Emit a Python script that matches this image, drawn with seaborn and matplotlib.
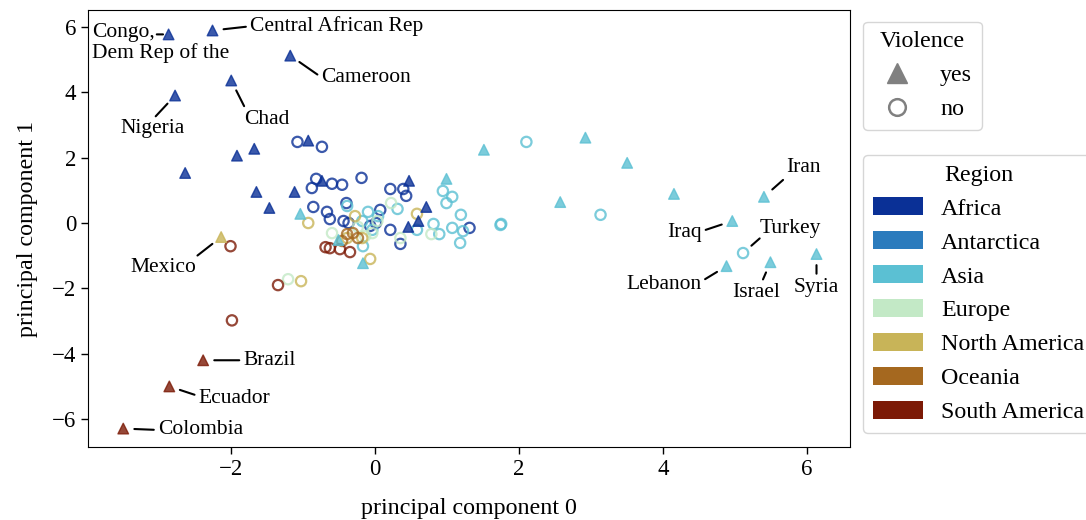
import matplotlib

matplotlib.use("Agg")
import matplotlib.pyplot as plt
import pandas as pd
import seaborn as sns
from matplotlib.lines import Line2D
from matplotlib.patches import Patch

# --- data (principal components) ------------------------------------------
REGIONS = ["Africa", "Antarctica", "Asia", "Europe", "North America", "Oceania", "South America"]
REGION_COLORS = ["#0a3096", "#2b7bbd", "#5bc0d3", "#c3e9c6", "#c8b458", "#a5681f", "#7c1a06"]

# (pc0, pc1, label)
africa_yes = [
    (-2.87, 5.77, "Congo,\nDem Rep of the"), (-2.26, 5.89, "Central African Rep"),
    (-1.18, 5.12, "Cameroon"), (-2.00, 4.36, "Chad"), (-2.78, 3.90, "Nigeria"),
    (-0.93, 2.52, ""), (-1.92, 2.06, ""), (-1.68, 2.27, ""), (-2.64, 1.53, ""),
    (-1.65, 0.95, ""), (-1.47, 0.46, ""), (-1.12, 0.95, ""), (-0.74, 1.29, ""),
    (0.47, 1.29, ""), (0.71, 0.49, ""), (0.60, 0.06, ""), (0.46, -0.12, ""),
]
africa_no = [
    (-1.08, 2.48), (-0.74, 2.33), (-0.82, 1.35), (-0.88, 1.07), (-0.60, 1.20),
    (-0.46, 1.17), (-0.19, 1.38), (-0.86, 0.49), (-0.67, 0.34), (-0.63, 0.12),
    (-0.44, 0.06), (-0.37, 0.00), (-0.40, 0.61), (0.07, 0.40), (0.21, 1.04),
    (0.39, 1.04), (0.43, 0.83), (0.21, -0.21), (0.35, -0.64), (1.31, -0.15),
    (-0.07, -0.09), (0.01, 0.00),
]
asia_yes = [
    (2.92, 2.61, ""), (3.50, 1.84, ""), (4.15, 0.89, ""), (5.40, 0.80, "Iran"),
    (4.96, 0.06, "Iraq"), (4.88, -1.32, "Lebanon"), (5.49, -1.20, "Israel"),
    (6.13, -0.95, "Syria"), (1.51, 2.24, ""), (0.99, 1.35, ""), (2.57, 0.64, ""),
    (-1.04, 0.28, ""), (-0.51, -0.52, ""), (-0.17, -1.23, ""),
]
asia_no = [
    (2.10, 2.48, ""), (3.13, 0.25, ""), (5.11, -0.92, "Turkey"), (1.75, -0.03, ""),
    (1.74, -0.06, ""), (0.94, 0.98, ""), (1.07, 0.80, ""), (0.99, 0.61, ""),
    (1.19, 0.25, ""), (1.07, -0.15, ""), (1.22, -0.25, ""), (1.18, -0.61, ""),
    (0.89, -0.34, ""), (0.81, -0.03, ""), (0.58, -0.21, ""), (-0.10, 0.34, ""),
    (0.31, 0.43, ""), (-0.39, 0.52, ""), (-0.17, -0.71, ""), (-0.18, 0.06, ""),
    (0.04, 0.21, ""), (-0.04, -0.21, ""),
]
europe_no = [
    (0.22, 0.61), (-0.60, -0.31), (0.35, -0.46), (0.78, -0.34), (-1.21, -1.72),
    (-0.14, -0.40), (-0.04, -0.31), (-0.24, -0.12), (0.03, 0.06),
]
north_america_yes = [(-2.14, -0.43, "Mexico")]
north_america_no = [
    (-0.93, 0.00), (-0.28, 0.21), (-0.07, -1.10), (-1.03, -1.78), (0.58, 0.28),
    (-0.39, -0.46), (-0.18, -0.46),
]
oceania_no = [(-0.39, -0.34), (-0.31, -0.31), (-0.24, -0.46), (-0.46, -0.55)]
south_america_yes = [(-2.39, -4.20, "Brazil"), (-2.86, -5.00, "Ecuador"), (-3.50, -6.29, "Colombia")]
south_america_no = [
    (-2.01, -0.71), (-1.99, -2.98), (-1.35, -1.90), (-0.69, -0.74), (-0.63, -0.77),
    (-0.49, -0.80), (-0.35, -0.89),
]

# label placement: offset of text anchor (points), ha, va, relpos of leader start, shrink at point
LABEL_POS = {
    "Congo,\nDem Rep of the": ((-55, 8), "left", "top", (0.44, 0.72), 4),
    "Central African Rep": ((27, 3), "left", "center", (0.0, 0.5), 8),
    "Cameroon": ((22, -16), "left", "center", (0.0, 0.55), 8),
    "Chad": ((9, -28), "left", "center", (0.05, 1.0), 8),
    "Nigeria": ((-16, -24), "center", "center", (0.5, 1.0), 8),
    "Mexico": ((-18, -22), "right", "center", (0.97, 1.0), 8),
    "Brazil": ((29, 0), "left", "center", (0.0, 0.5), 8),
    "Ecuador": ((21, -9), "left", "center", (0.0, 0.65), 8),
    "Colombia": ((25, -1), "left", "center", (0.0, 0.5), 8),
    "Iran": ((16, 21), "left", "center", (0.0, 0.0), 8),
    "Iraq": ((-22, -8), "right", "center", (1.0, 0.55), 8),
    "Turkey": ((12, 18), "left", "center", (0.05, 0.1), 8),
    "Lebanon": ((-18, -13), "right", "center", (1.0, 0.65), 8),
    "Israel": ((-10, -22), "center", "center", (0.6, 1.0), 8),
    "Syria": ((0, -24), "center", "center", (0.5, 1.0), 8),
}


def frame(rows, region, violence):
    df = pd.DataFrame([r[:2] for r in rows], columns=["pc0", "pc1"])
    df["label"] = [r[2] if len(r) > 2 else "" for r in rows]
    df["region"] = region
    df["violence"] = violence
    return df


df = pd.concat([
    frame(africa_yes, "Africa", "yes"), frame(africa_no, "Africa", "no"),
    frame(asia_yes, "Asia", "yes"), frame(asia_no, "Asia", "no"),
    frame(europe_no, "Europe", "no"),
    frame(north_america_yes, "North America", "yes"), frame(north_america_no, "North America", "no"),
    frame(oceania_no, "Oceania", "no"),
    frame(south_america_yes, "South America", "yes"), frame(south_america_no, "South America", "no"),
], ignore_index=True)

palette = dict(zip(REGIONS, REGION_COLORS))

# --- style --------------------------------------------------------------------
sns.set_style("ticks", rc={
    "axes.edgecolor": "black", "xtick.color": "black", "ytick.color": "black",
    "text.color": "black", "axes.labelcolor": "black", "axes.linewidth": 1.0,
})
plt.rcParams["font.family"] = ["Liberation Serif", "DejaVu Serif"]
plt.rcParams["font.size"] = 15.5

fig = plt.figure(figsize=(10.86, 5.2), dpi=100)
ax = fig.add_axes([0.081, 0.140, 0.702, 0.841])

# circles first (hollow), triangles on top
sns.scatterplot(data=df[df["violence"] == "no"], x="pc0", y="pc1", hue="region",
                palette=palette, marker="o", s=55, alpha=0.8, legend=False, ax=ax)
coll = ax.collections[-1]
coll.set_edgecolors(coll.get_facecolors())
coll.set_facecolors("none")
coll.set_linewidths(1.6)

sns.scatterplot(data=df[df["violence"] == "yes"], x="pc0", y="pc1", hue="region",
                palette=palette, marker="^", s=58, alpha=0.8, legend=False, ax=ax)
coll = ax.collections[-1]
coll.set_edgecolors(coll.get_facecolors())
coll.set_linewidths(1.0)

for _, row in df[df["label"] != ""].iterrows():
    off, ha, va, rel, shrink = LABEL_POS[row["label"]]
    ax.annotate(row["label"], xy=(row["pc0"], row["pc1"]), xytext=off,
                textcoords="offset points", ha=ha, va=va, fontsize=15.5,
                linespacing=1.05,
                arrowprops=dict(arrowstyle="-", color="black", lw=1.5, patchA=None,
                                relpos=rel, shrinkA=3, shrinkB=shrink))

ax.set_xlim(-3.99, 6.6)
ax.set_ylim(-6.86, 6.52)
ax.set_xticks([-2, 0, 2, 4, 6])
ax.set_yticks([-6, -4, -2, 0, 2, 4, 6])
ax.tick_params(labelsize=16.5, length=5, width=1)
ax.set_xlabel("principal component 0", fontsize=17.3, labelpad=13)
ax.set_ylabel("principal component 1", fontsize=17.3, labelpad=10)

# --- legends ------------------------------------------------------------------
LEG_FS = 17.3
viol_handles = [
    Line2D([], [], ls="", marker="^", ms=14, color="gray", label="yes"),
    Line2D([], [], ls="", marker="o", ms=12, mfc="none", mec="gray", mew=1.8, label="no"),
]
leg1 = ax.legend(handles=viol_handles, title="Violence", loc="upper left",
                 bbox_to_anchor=(1.017, 0.973), fontsize=LEG_FS, title_fontsize=LEG_FS,
                 labelspacing=0.5, borderaxespad=0)
ax.add_artist(leg1)

reg_handles = [Patch(facecolor=c, edgecolor="none", label=r) for r, c in zip(REGIONS, REGION_COLORS)]
ax.legend(handles=reg_handles, title="Region", loc="upper left",
          bbox_to_anchor=(1.017, 0.668), fontsize=LEG_FS, title_fontsize=LEG_FS,
          handlelength=2.08, handleheight=0.8, handletextpad=0.75,
          labelspacing=0.475, borderaxespad=0)

fig.savefig("out.png", dpi=100)
